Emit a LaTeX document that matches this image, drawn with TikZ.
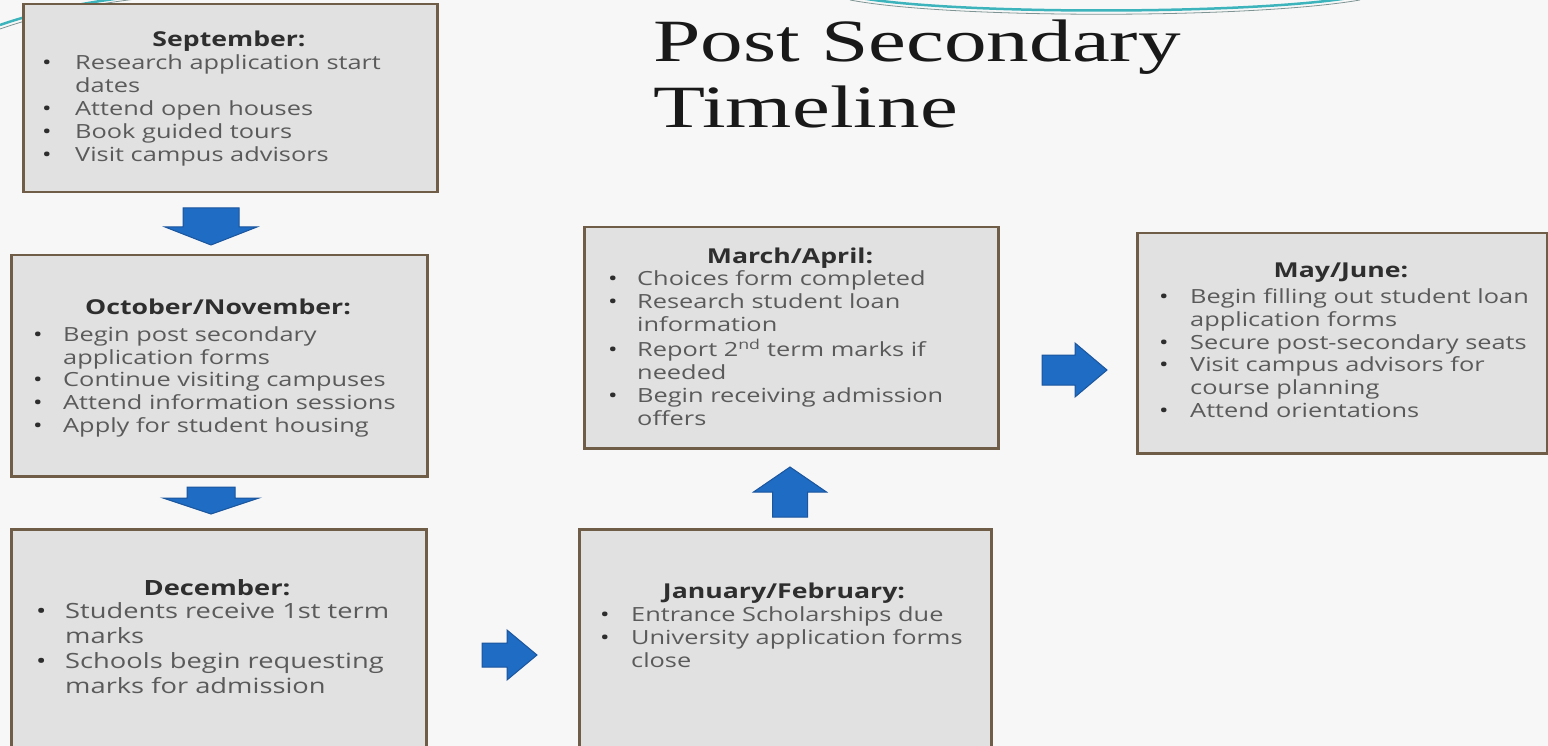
\documentclass[tikz,border=0pt]{standalone}
\usepackage{fontspec}
\setmainfont{Open Sans}[FakeStretch=1.3]
\newfontfamily\titlefont[FakeStretch=1.42]{Liberation Serif}
\usepackage{array}
\definecolor{bgcol}{HTML}{F7F7F7}
\definecolor{boxfill}{HTML}{E1E1E1}
\definecolor{boxline}{HTML}{6F5D48}
\definecolor{bodytext}{HTML}{5A5A5A}
\definecolor{headtext}{HTML}{2E2E2E}
\definecolor{arrowfill}{HTML}{1E6CC3}
\definecolor{arrowline}{HTML}{1A559E}
\definecolor{swooshcol}{HTML}{3DB4BC}
\definecolor{swooshgray}{HTML}{7F9494}
\newcommand{\blkarrow}[7]{\begin{scope}[shift={(#1,#2)},rotate=#3]
\filldraw[blockarr] (0,0) -- (-#5,#7) -- (-#5,#6) -- (-#4,#6) -- (-#4,-#6) -- (-#5,-#6) -- (-#5,-#7) -- cycle;
\end{scope}}
\newcommand{\bul}{\textcolor{headtext}{\textbullet}}
\begin{document}
\begin{tikzpicture}[x=1pt,y=-1pt,
  box/.style={draw=boxline, fill=boxfill, line width=2.5pt, inner sep=0pt, anchor=north west},
  hd/.style={font=\bfseries\fontsize{20.5}{23}\selectfont, text=headtext, inner sep=0pt, anchor=base},
  hdbig/.style={hd, font=\bfseries\fontsize{21}{25}\selectfont},
  lst/.style={font=\fontsize{19.5}{23}\selectfont, text=bodytext, inner sep=0pt, anchor=base west},
  lstbig/.style={lst, font=\fontsize{21}{25}\selectfont},
  blockarr/.style={fill=arrowfill, draw=arrowline, line width=1pt, line join=miter},
  swoosh/.style={draw=swooshcol, line width=2.5pt},
  swooshthin/.style={draw=swooshgray, line width=0.8pt},
  ttl/.style={font=\titlefont\fontsize{60}{66}\selectfont, text=black!90, inner sep=0pt, anchor=base west}]
\useasboundingbox (0,0) rectangle (1548,746);
\clip (0,0) rectangle (1548,746);
\fill[bgcol] (0,0) rectangle (1548,746);
% decorative swooshes
\draw[swooshthin] (0,29) .. controls (40,15) and (90,4) .. (145,-2);
\draw[swoosh] (0,25) .. controls (40,11) and (90,1) .. (140,-4);
\draw[swooshthin] (850,0) .. controls (950,19) and (1250,19) .. (1360,0);
\draw[swoosh] (855,-3) .. controls (950,15) and (1250,15) .. (1355,-3);
% boxes
\node[box, minimum width=414pt, minimum height=188pt] (sep) at (22,3) {};
\node[box, minimum width=416pt, minimum height=221pt] (oct) at (10,254) {};
\node[box, minimum width=415pt, minimum height=224pt] (dec) at (10,528) {};
\node[box, minimum width=412pt, minimum height=224pt] (jan) at (578,528) {};
\node[box, minimum width=414pt, minimum height=221pt] (mar) at (583,226) {};
\node[box, minimum width=410pt, minimum height=220pt] (may) at (1136,232) {};
% title
\node[ttl] (title1) at (653,62) {Post Secondary};
\node[ttl] (title2) at (653,128) {Timeline};
% headings
\node[hd] (sep-h) at (229,47) {September:};
\node[hd] (oct-h) at (218,314) {October/November:};
\node[hdbig] (dec-h) at (217,595) {December:};
\node[hd] (jan-h) at (784,598) {January/February:};
\node[hd] (mar-h) at (790,263) {March/April:};
\node[hd] (may-h) at (1341,277) {May/June:};
% lists
\node[lst] (sep-l) at (42,70) {\begin{tabular}[t]{@{}p{33pt}@{}l@{}}
\bul & Research application start\\
 & dates\\
\bul & Attend open houses\\
\bul & Book guided tours\\
\bul & Visit campus advisors
\end{tabular}};
\node[lst] (oct-l) at (33,341) {\begin{tabular}[t]{@{}p{30pt}@{}l@{}}
\bul & Begin post secondary\\
 & application forms\\
\bul & Continue visiting campuses\\
\bul & Attend information sessions\\
\bul & Apply for student housing
\end{tabular}};
\node[lstbig] (dec-l) at (36,618) {\begin{tabular}[t]{@{}p{29pt}@{}l@{}}
\bul & Students receive 1st term\\
 & marks\\
\bul & Schools begin requesting\\
 & marks for admission
\end{tabular}};
\node[lst] (jan-l) at (600,621) {\begin{tabular}[t]{@{}p{31pt}@{}l@{}}
\bul & Entrance Scholarships due\\
\bul & University application forms\\
 & close
\end{tabular}};
\node[lst] (mar-l) at (608,286) {\begin{tabular}[t]{@{}p{29pt}@{}l@{}}
\bul & Choices form completed\\
\bul & Research student loan\\
 & information\\
\bul & Report 2\textsuperscript{nd} term marks if\\
 & needed\\
\bul & Begin receiving admission\\
 & offers
\end{tabular}};
\node[lst] (may-l) at (1159,303) {\begin{tabular}[t]{@{}p{31pt}@{}l@{}}
\bul & Begin filling out student loan\\
 & application forms\\
\bul & Secure post-secondary seats\\
\bul & Visit campus advisors for\\
 & course planning\\
\bul & Attend orientations
\end{tabular}};
% block arrows
\blkarrow{211}{245}{-90}{37}{18}{28}{46}
\blkarrow{211}{514}{-90}{27}{16}{24}{48}
\blkarrow{537}{655}{0}{55}{30}{12}{25}
\blkarrow{790}{467}{90}{50}{25}{17.5}{36.5}
\blkarrow{1107}{370}{0}{65}{32}{15}{27}
\end{tikzpicture}
\end{document}
